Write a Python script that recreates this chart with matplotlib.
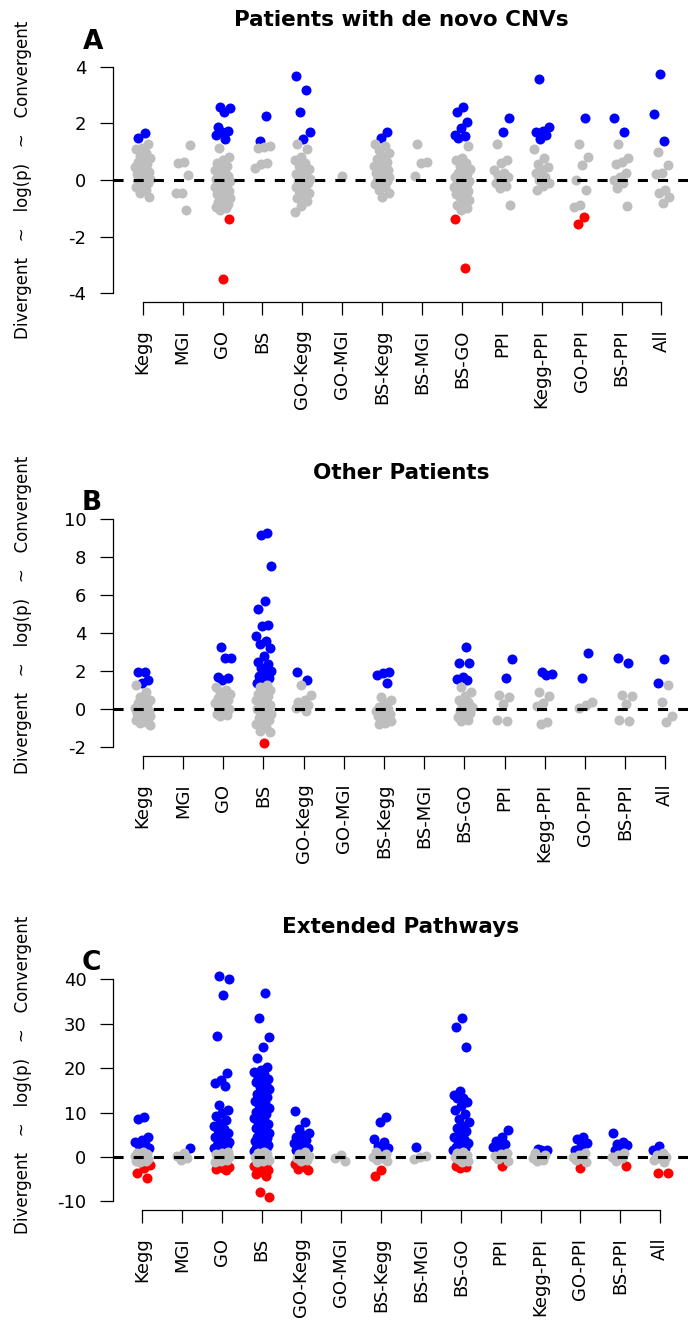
"""Strip charts of pathway-level log(p) scores for three patient groups.

Each column is one gene-set source (or combination); points above the
significance line are blue (convergent), below it red (divergent).
"""
import numpy as np
import matplotlib
matplotlib.use('Agg')
import matplotlib.pyplot as plt

categories = ['Kegg', 'MGI', 'GO', 'BS', 'GO-Kegg', 'GO-MGI', 'BS-Kegg',
              'BS-MGI', 'BS-GO', 'PPI', 'Kegg-PPI', 'GO-PPI', 'BS-PPI', 'All']

# log(p) scores per category, de novo CNV patients
denovo = [
    [1.68, 1.47, 1.27, 1.15, 1.08, 0.95, 0.85, 0.78, 0.7, 0.62, 0.55, 0.5, 0.45, 0.4, 0.35,
     0.3, 0.26, 0.2, 0.15, 0.1, 0.05, 0.0, -0.04, -0.1, -0.18, -0.25, -0.35, -0.45, -0.6],
    [1.25, 0.62, 0.6, 0.18, -0.47, -0.45, -1.05],
    [2.6, 2.55, 2.42, 1.89, 1.75, 1.71, 1.59, 1.45, 1.12, 0.8, 0.72, 0.6, 0.5, 0.42, 0.35,
     0.3, 0.22, 0.15, 0.1, 0.05, 0.02, -0.02, -0.05, -0.1, -0.12, -0.18, -0.22, -0.25, -0.3,
     -0.35, -0.4, -0.45, -0.5, -0.55, -0.6, -0.65, -0.7, -0.78, -0.85, -0.9, -0.95, -1.0,
     -1.06, -1.39, -3.52],
    [2.28, 1.37, 1.22, 1.18, 1.15, 0.6, 0.55, 0.42],
    [3.68, 3.19, 2.42, 1.69, 1.45, 1.27, 1.08, 0.8, 0.71, 0.59, 0.5, 0.4, 0.3, 0.22, 0.15,
     0.1, 0.05, 0.0, -0.05, -0.1, -0.18, -0.25, -0.3, -0.38, -0.45, -0.55, -0.65, -0.75,
     -0.92, -1.12],
    [0.15],
    [1.71, 1.48, 1.27, 1.2, 1.05, 0.95, 0.85, 0.75, 0.65, 0.6, 0.5, 0.45, 0.4, 0.35, 0.3,
     0.25, 0.2, 0.15, 0.1, 0.05, 0.0, -0.05, -0.1, -0.15, -0.25, -0.35, -0.45, -0.6],
    [1.27, 0.62, 0.6, 0.15],
    [2.6, 2.42, 2.04, 1.83, 1.6, 1.54, 1.48, 1.2, 0.77, 0.7, 0.6, 0.5, 0.4, 0.3, 0.25, 0.2,
     0.15, 0.1, 0.05, 0.0, -0.03, -0.06, -0.1, -0.15, -0.2, -0.25, -0.3, -0.35, -0.4, -0.45,
     -0.5, -0.55, -0.6, -0.7, -0.8, -0.9, -1.0, -1.06, -1.39, -3.12],
    [2.18, 1.69, 1.27, 0.71, 0.59, 0.35, 0.24, 0.18, 0.1, 0.0, -0.12, -0.2, -0.29, -0.88],
    [3.56, 1.89, 1.75, 1.71, 1.6, 1.45, 1.08, 0.77, 0.55, 0.47, 0.35, 0.24, 0.1, 0.0,
     -0.12, -0.2, -0.35],
    [2.18, 1.27, 0.83, 0.53, 0.0, -0.35, -0.88, -0.94, -1.32, -1.57],
    [2.18, 1.69, 1.27, 0.77, 0.65, 0.55, 0.24, 0.12, 0.0, -0.1, -0.29, -0.91],
    [3.75, 2.34, 1.37, 1.0, 0.53, 0.24, 0.2, -0.35, -0.45, -0.59, -0.83],
]

# log(p) scores per category, other patients
other = [
    [1.97, 1.93, 1.53, 1.39, 1.26, 0.9, 0.65, 0.5, 0.4, 0.3, 0.2, 0.1, 0.05, 0.0, -0.05,
     -0.1, -0.15, -0.2, -0.25, -0.3, -0.35, -0.4, -0.45, -0.5, -0.55, -0.6, -0.7, -0.75, -0.84],
    [],
    [3.28, 2.67, 2.67, 1.71, 1.62, 1.53, 1.18, 1.0, 0.9, 0.8, 0.65, 0.6, 0.49, 0.4, 0.3,
     0.2, 0.1, 0.0, -0.1, -0.25, -0.3, -0.39],
    [9.26, 9.17, 7.55, 5.71, 5.25, 4.42, 4.37, 3.85, 3.6, 3.44, 3.23, 2.79, 2.5, 2.35, 2.18,
     2.0, 1.91, 1.75, 1.65, 1.5, 1.38, 1.26, 1.15, 1.02, 0.93, 0.81, 0.7, 0.62, 0.5, 0.43,
     0.31, 0.2, 0.12, 0.0, -0.08, -0.2, -0.28, -0.4, -0.47, -0.6, -0.72, -0.8, -0.95, -1.15,
     -1.2, -1.77],
    [1.97, 1.53, 1.26, 0.74, 0.49, 0.35, 0.23, 0.15, 0.05, -0.12],
    [],
    [1.97, 1.88, 1.8, 1.39, 0.65, 0.5, 0.3, 0.1, 0.0, -0.05, -0.1, -0.15, -0.21, -0.25,
     -0.3, -0.35, -0.45, -0.55, -0.65, -0.74, -0.8],
    [],
    [3.28, 2.41, 2.41, 1.71, 1.6, 1.53, 1.18, 0.9, 0.7, 0.5, 0.35, 0.23, 0.1, 0.0, -0.1,
     -0.2, -0.3, -0.4, -0.56, -0.65],
    [2.63, 1.62, 0.74, 0.65, 0.28, -0.56, -0.65],
    [1.97, 1.84, 1.8, 0.9, 0.69, 0.3, 0.14, -0.69, -0.77],
    [2.93, 1.62, 0.35, 0.2, 0.05],
    [2.67, 2.41, 0.74, 0.7, 0.28, -0.56, -0.65],
    [2.61, 1.39, 1.26, 0.35, -0.39, -0.69],
]

# log(p) scores per category, extended pathways
extended = [
    [9.1, 8.5, 4.6, 3.8, 3.4, 3.0, 2.6, 2.0, 1.2, 0.9, 0.6, 0.4, 0.2, 0.0, -0.2, -0.4,
     -0.6, -0.8, -1.0, -1.2, -1.8, -2.5, -3.7, -4.8],
    [2.1, 0.8, 0.2, -0.3, -0.6],
    [40.8, 40.0, 36.5, 27.3, 18.9, 17.4, 16.7, 16.1, 11.7, 10.6, 10.0, 9.3, 8.4, 7.7, 7.0,
     6.4, 6.0, 5.4, 5.0, 4.6, 4.1, 3.8, 3.4, 3.1, 2.8, 2.5, 2.2, 2.0, 1.7, 1.5, 1.2, 0.9,
     0.6, 0.4, 0.2, 0.0, -0.2, -0.4, -0.7, -0.9, -1.1, -1.8, -2.1, -2.3, -2.5, -2.8, -3.0],
    [36.9, 31.4, 27.1, 24.8, 22.4, 20.2, 19.5, 19.1, 18.6, 18.1, 17.6, 17.2, 16.8, 16.2,
     15.7, 15.3, 14.8, 14.2, 13.6, 13.1, 12.7, 12.2, 11.6, 11.1, 10.7, 10.2, 9.7, 9.3, 8.8,
     8.3, 7.9, 7.4, 7.0, 6.6, 6.2, 5.8, 5.4, 5.0, 4.6, 4.2, 3.9, 3.5, 3.2, 2.9, 2.6, 2.3,
     2.0, 1.8, 1.6, 1.4, 1.2, 0.9, 0.6, 0.3, 0.1, -0.1, -0.3, -0.6, -0.9, -1.2, -1.5, -1.8,
     -2.1, -2.4, -2.7, -3.0, -3.4, -3.8, -4.2, -7.8, -8.9],
    [10.4, 7.8, 6.3, 5.5, 4.9, 4.4, 3.9, 3.5, 3.1, 2.7, 2.4, 2.1, 1.8, 1.5, 1.1, 0.7, 0.3,
     0.0, -0.3, -0.7, -1.0, -1.6, -2.2, -2.6, -3.0],
    [0.5, -0.2, -0.8],
    [8.9, 7.8, 4.1, 3.3, 2.5, 2.0, 1.6, 1.1, 0.7, 0.3, 0.0, -0.3, -0.6, -1.0, -2.9, -4.3],
    [2.2, 0.3, 0.0, -0.4],
    [31.4, 29.3, 24.7, 14.9, 14.0, 13.3, 13.2, 12.5, 11.5, 10.6, 9.6, 8.5, 7.9, 7.0, 6.5,
     5.8, 5.2, 4.6, 4.0, 3.5, 3.1, 2.7, 2.3, 2.0, 1.7, 1.5, 1.1, 0.8, 0.5, 0.2, 0.0, -0.2,
     -0.5, -0.8, -1.1, -2.0, -2.3, -2.5],
    [6.1, 4.6, 3.5, 3.0, 2.7, 2.2, 1.9, 1.6, 1.0, 0.6, 0.2, -0.1, -0.5, -0.9, -2.0],
    [1.9, 1.6, 1.5, 0.9, 0.4, 0.0, -0.3, -0.7, -1.0],
    [4.6, 4.0, 3.1, 2.5, 1.6, 1.0, 0.5, 0.1, -0.3, -0.7, -1.1, -2.5],
    [5.3, 3.4, 2.9, 2.6, 2.2, 1.5, 1.0, 0.5, 0.1, -0.3, -0.8, -2.0],
    [2.4, 1.6, 1.0, 0.5, 0.1, -0.3, -0.7, -1.1, -3.7, -3.7],
]

titles = ['Patients with de novo CNVs', 'Other Patients', 'Extended Pathways']
letters = ['A', 'B', 'C']
yticks = [np.arange(-4, 5, 2), np.arange(-2, 11, 2), np.arange(-10, 41, 10)]
THRESH = -np.log10(0.05)

W, H = 688, 1329
fig = plt.figure(figsize=(W / 100, H / 100), dpi=100)

# pixel layout of each panel: plot box, zero line, scale, first tick, spacing
layout = [
    dict(top=55, bottom=302, zero=180, ppu=28.25, x0=142.7, dx=39.9,
         title_y=20, letter=(93, 42), ylab_y=180),
    dict(top=505, bottom=756, zero=709, ppu=18.98, x0=142.7, dx=40.2,
         title_y=473, letter=(92, 503), ylab_y=615),
    dict(top=960, bottom=1210, zero=1157, ppu=4.44, x0=142.0, dx=39.85,
         title_y=927, letter=(91, 963), ylab_y=1075),
]
LEFT, RIGHT = 112.7, 688


def jitter(n, k):
    # evenly spread horizontal offsets within +-0.2 of the category position
    u = (0.37 * k + 0.6180339887 * np.arange(1, n + 1)) % 1.0
    return 0.2 * (2 * u - 1)


for p, data in enumerate([denovo, other, extended]):
    L = layout[p]
    ax = fig.add_axes([LEFT / W, 1 - L['bottom'] / H,
                       (RIGHT - LEFT) / W, (L['bottom'] - L['top']) / H])
    ax.set_ylim((L['zero'] - L['bottom']) / L['ppu'], (L['zero'] - L['top']) / L['ppu'])
    ax.set_xlim(1 - (L['x0'] - LEFT) / L['dx'], 1 + (RIGHT - L['x0']) / L['dx'])

    for i, vals in enumerate(data):
        if not vals:
            continue
        v = np.asarray(vals, dtype=float)
        x = i + 1 + jitter(len(v), i)
        up = v > THRESH
        dn = v < -THRESH
        mid = ~(up | dn)
        ax.scatter(x[up], v[up], s=52, c='#0000FF', linewidths=0, zorder=3, clip_on=False)
        ax.scatter(x[dn], v[dn], s=52, c='#FF0000', linewidths=0, zorder=3, clip_on=False)
        ax.scatter(x[mid], v[mid], s=52, c='#BEBEBE', linewidths=0, zorder=4, clip_on=False)

    ax.axhline(0, color='black', lw=2.2, ls=(0, (3.3, 3.3)), zorder=5)

    for side in ['top', 'right']:
        ax.spines[side].set_visible(False)
    ax.spines['left'].set_bounds(yticks[p][0], yticks[p][-1])
    ax.spines['bottom'].set_bounds(1, 14)
    for side in ['left', 'bottom']:
        ax.spines[side].set_linewidth(0.9)

    ax.set_yticks(yticks[p])
    ax.set_yticklabels([str(t) for t in yticks[p]])
    ax.set_xticks(np.arange(1, 15))
    ax.set_xticklabels(categories, rotation=90)
    ax.tick_params(axis='y', length=9.4, width=0.9, pad=9.5, labelsize=13)
    ax.tick_params(axis='x', length=9.4, width=0.9, pad=10.5, labelsize=13)

    fig.text(401 / W, 1 - L['title_y'] / H, titles[p], ha='center', va='center',
             fontsize=15.5, fontweight='bold')
    lx, ly = L['letter']
    fig.text(lx / W, 1 - ly / H, letters[p], ha='center', va='center',
             fontsize=19, fontweight='bold')
    fig.text(23 / W, 1 - L['ylab_y'] / H, 'Divergent   ~   log(p)   ~   Convergent',
             rotation=90, ha='center', va='center', fontsize=12)

fig.savefig('out.png', dpi=100)
